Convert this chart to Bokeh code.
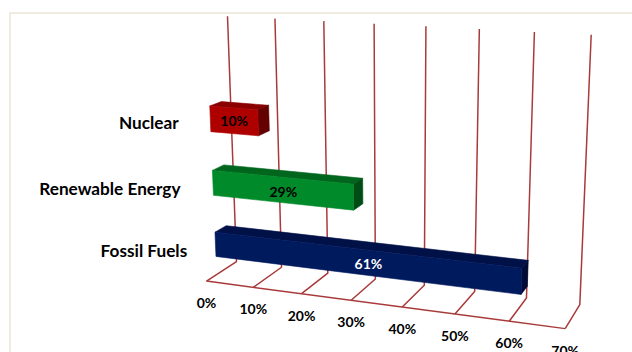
import numpy as np
from bokeh.core.properties import value
from bokeh.embed import file_html
from bokeh.models import Range1d
from bokeh.plotting import figure
from bokeh.resources import INLINE

# Chart data, listed bottom to top along the category axis
categories = ["Fossil Fuels", "Renewable Energy", "Nuclear"]
shares = [61, 29, 10]
value_ticks = [0, 10, 20, 30, 40, 50, 60, 70]
tick_labels = ["0%", "10%", "20%", "30%", "40%", "50%", "60%", "70%"]

# Face colours per bar: front, top, side; then label colour
front_colors = ["#001A5E", "#008A29", "#AF0000"]
top_colors = ["#001148", "#00661E", "#8A0000"]
side_colors = ["#000C38", "#004C15", "#640000"]
label_colors = ["#FFFFFF", "#000000", "#000000"]

GRID_COLOR = "#A83A3A"
FONT = "Lato"
AXIS_MAX = 70

# Where the box corners of the 3D scene land on the page:
# (value fraction, depth, height) -> (pixel x, pixel y)
cube_corners = [(0, 0, 0), (1, 0, 0), (0, 1, 0), (1, 1, 0), (0, 1, 1), (1, 1, 1)]
page_corners = [(206, 280.7), (564.7, 328), (236, 261), (579.3, 304.3), (227, 15.7), (590.7, 34.3)]

# Solve the perspective camera from those correspondences
rows, rhs = [], []
for (a, b, c), (u, v) in zip(cube_corners, page_corners):
    rows.append([a, b, c, 1, 0, 0, 0, 0, -u * a, -u * b, -u * c])
    rhs.append(u)
    rows.append([0, 0, 0, 0, a, b, c, 1, -v * a, -v * b, -v * c])
    rhs.append(v)
cam = np.linalg.lstsq(np.array(rows, float), np.array(rhs, float), rcond=None)[0]
cam = np.append(cam, 1.0).reshape(3, 4)


def project(val, depth, height):
    """Map a value on the percent axis plus scene depth and height to the page."""
    q = cam @ np.array([val / AXIS_MAX, depth, height, 1.0])
    return q[0] / q[2], q[1] / q[2]


# Bars sit in the middle of the box depth; each category holds a third of the height
DEPTH_FRONT, DEPTH_BACK = 0.33, 0.70
BAR_FILL = 0.30  # fraction of the box height taken by a bar
band_centers = [0.125, 0.375, 0.628]

# Category name placement relative to the 0% end of each bar
name_dx = [-18, -22, -21]
name_dy = [6, 6, 4]
share_dy = [1, 1, 0]

p = figure(
    width=632, height=352, output_backend="svg", toolbar_location=None,
    x_range=Range1d(0, 632), y_range=Range1d(352, 0),
    min_border=0, outline_line_color=None,
)
p.axis.visible = False
p.grid.visible = False
p.background_fill_color = "#FFFFFF"
p.border_fill_color = "#FFFFFF"

# Chart frame: only its top and left edges fall inside the page
p.line([9.5, 9.5, 632], [352, 12.5, 12.5], line_color="#EFEBDF", line_width=2)

# Gridlines up the back wall and across the floor
for t in value_ticks:
    x0, y0 = project(t, 0, 0)
    x1, y1 = project(t, 1, 0)
    x2, y2 = project(t, 1, 1)
    p.line([x0, x1, x2], [y0, y1, y2], line_color=GRID_COLOR, line_width=1.5)

# Front edge of the floor
xa, ya = project(value_ticks[0], 0, 0)
xb, yb = project(value_ticks[-1], 0, 0)
p.line([xa, xb], [ya, yb], line_color=GRID_COLOR, line_width=1.5)

# Bars: top and side faces first, front face over them
for i, share in enumerate(shares):
    h0 = band_centers[i] - BAR_FILL / 3 / 2
    h1 = band_centers[i] + BAR_FILL / 3 / 2
    fbl = project(0, DEPTH_FRONT, h0)
    fbr = project(share, DEPTH_FRONT, h0)
    ftl = project(0, DEPTH_FRONT, h1)
    ftr = project(share, DEPTH_FRONT, h1)
    btl = project(0, DEPTH_BACK, h1)
    btr = project(share, DEPTH_BACK, h1)
    bbr = project(share, DEPTH_BACK, h0)

    p.patch(*zip(ftl, btl, btr, ftr), fill_color=top_colors[i],
            line_color=top_colors[i], line_width=0.6)
    p.patch(*zip(ftr, btr, bbr, fbr), fill_color=side_colors[i],
            line_color=side_colors[i], line_width=0.6)
    p.patch(*zip(fbl, ftl, ftr, fbr), fill_color=front_colors[i],
            line_color=front_colors[i], line_width=0.6)

    cx = (fbl[0] + fbr[0] + ftl[0] + ftr[0]) / 4
    cy = (fbl[1] + fbr[1] + ftl[1] + ftr[1]) / 4
    p.text([cx], [cy + share_dy[i]], text=[f"{share}%"], text_color=label_colors[i],
           text_font=value(FONT), text_font_style="bold", text_font_size="14px",
           text_align="center", text_baseline="middle")

    # Category name, right-aligned against the 0% end of the bar
    lx = project(0, 0, band_centers[i])[0] + name_dx[i]
    ly = (fbl[1] + ftl[1]) / 2 + name_dy[i]
    p.text([lx], [ly], text=[categories[i]], text_color="#000000",
           text_font=value(FONT), text_font_style="bold", text_font_size="17.2px",
           text_align="right", text_baseline="middle")

# Percent labels under the floor's front edge
for t, lab in zip(value_ticks, tick_labels):
    tx, ty = project(t, 0, 0)
    p.text([tx], [ty + 21.5], text=[lab], text_color="#000000",
           text_font=value(FONT), text_font_style="bold", text_font_size="14px",
           text_align="center", text_baseline="middle")

open("out.html", "w").write(file_html(p, INLINE))
